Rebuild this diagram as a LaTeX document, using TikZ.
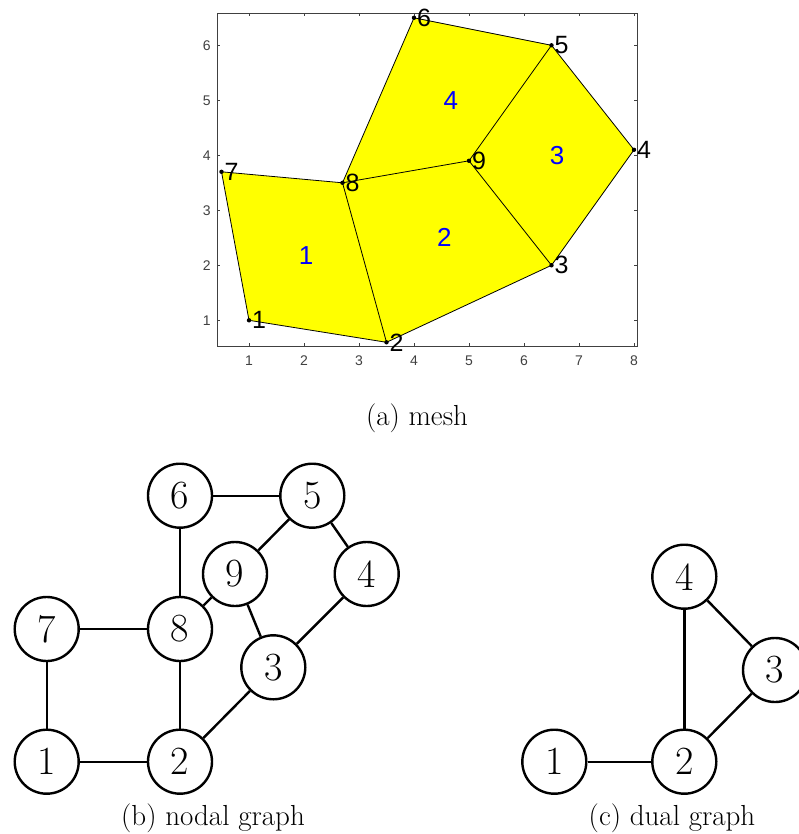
\documentclass[tikz,border=0pt]{standalone}
\usepackage{fontspec}
\newfontfamily\plotfont{Liberation Sans}
\usetikzlibrary{positioning, calc}
\definecolor{axisgray}{gray}{0.25}
\definecolor{meshyellow}{rgb}{1,1,0}
\definecolor{meshblue}{rgb}{0,0,1}

\tikzset{
  gnode/.style={draw, circle, minimum size=64pt, inner sep=0pt, line width=2.4pt,
    font=\fontsize{40}{48}\selectfont},
  gedge/.style={line width=2.4pt},
  caption/.style={font=\fontsize{29}{34}\selectfont},
  ptlbl/.style={anchor=west, inner sep=0pt, xshift=3pt, font=\plotfont\fontsize{25}{28}\selectfont},
  elmlbl/.style={text=meshblue, inner sep=0pt, font=\plotfont\fontsize{26}{29}\selectfont},
  ticklbl/.style={text=axisgray, inner sep=0pt, font=\plotfont\fontsize{14}{16}\selectfont},
}

\begin{document}
\begin{tikzpicture}[x=1pt, y=-1pt]
    \useasboundingbox (0,0) rectangle (798,834);

    % (a) mesh
    \begin{scope}[shift={(194,375.3)}, x=55pt, y=55pt]
        \coordinate (p1) at (1,1);
        \coordinate (p2) at (3.5,0.6);
        \coordinate (p3) at (6.5,2);
        \coordinate (p4) at (8,4.1);
        \coordinate (p5) at (6.5,6);
        \coordinate (p6) at (4,6.5);
        \coordinate (p7) at (0.5,3.7);
        \coordinate (p8) at (2.7,3.5);
        \coordinate (p9) at (5,3.9);

        % elements
        \filldraw[fill=meshyellow, draw=black, line width=0.8pt, line join=round]
            (p1) -- (p2) -- (p8) -- (p7) -- cycle
            (p2) -- (p3) -- (p9) -- (p8) -- cycle
            (p3) -- (p4) -- (p5) -- (p9) -- cycle
            (p8) -- (p9) -- (p5) -- (p6) -- cycle;

        % axes
        \draw[axisgray, line width=0.9pt] (0.424,0.533) rectangle (8.06,6.58);
        \foreach \i in {1,...,8} {
            \draw[axisgray, line width=0.6pt] (\i,0.533) -- ++(0,3pt) (\i,6.58) -- ++(0,-3pt);
            \node[ticklbl] (xt\i) at ($(\i,0.533)+(0,-14.7pt)$) {\i};
        }
        \foreach \i in {1,...,6} {
            \draw[axisgray, line width=0.6pt] (0.424,\i) -- ++(3pt,0) (8.06,\i) -- ++(-3pt,0);
            \node[ticklbl] (yt\i) at ($(0.424,\i)+(-10.6pt,0)$) {\i};
        }

        % points
        \foreach \i in {1,...,9} {
            \fill (p\i) circle (2.2pt);
            \node[ptlbl] (l\i) at (p\i) {\i};
        }

        \node[elmlbl] (e1) at (2.04,2.18) {1};
        \node[elmlbl] (e2) at (4.55,2.50) {2};
        \node[elmlbl] (e3) at (6.6,3.99) {3};
        \node[elmlbl] (e4) at (4.67,5.0) {4};
    \end{scope}
    \node[caption] (capa) at (417,418) {(a) mesh};

    % (b) nodal graph
    \node[gnode] (n7) at (46.7,629) {7};
    \node[gnode] (n8) at (180,629) {8};
    \node[gnode] (n1) at (46.7,761.7) {1};
    \node[gnode] (n2) at (180,761.7) {2};
    \node[gnode] (n6) at (180,495.7) {6};
    \node[gnode] (n5) at (312.3,495.7) {5};
    \node[gnode] (n9) at (235,574) {9};
    \node[gnode] (n4) at (366.7,574) {4};
    \node[gnode] (n3) at (273.3,667.3) {3};

    \draw[gedge] (n1) -- (n2);
    \draw[gedge] (n1) -- (n7);
    \draw[gedge] (n7) -- (n8);
    \draw[gedge] (n2) -- (n8);
    \draw[gedge] (n8) -- (n6);
    \draw[gedge] (n6) -- (n5);
    \draw[gedge] (n8) -- (n9);
    \draw[gedge] (n9) -- (n5);
    \draw[gedge] (n5) -- (n4);
    \draw[gedge] (n9) -- (n3);
    \draw[gedge] (n4) -- (n3);
    \draw[gedge] (n2) -- (n3);
    \node[caption] (capb) at (213,818) {(b) nodal graph};

    % (c) dual graph
    \node[gnode] (d4) at (684.3,576.7) {4};
    \node[gnode] (d3) at (775,670) {3};
    \node[gnode] (d1) at (554.3,761.7) {1};
    \node[gnode] (d2) at (684.3,761.7) {2};

    \draw[gedge] (d1) -- (d2);
    \draw[gedge] (d2) -- (d4);
    \draw[gedge] (d4) -- (d3);
    \draw[gedge] (d2) -- (d3);
    \node[caption] (capc) at (672,818) {(c) dual graph};
\end{tikzpicture}
\end{document}
